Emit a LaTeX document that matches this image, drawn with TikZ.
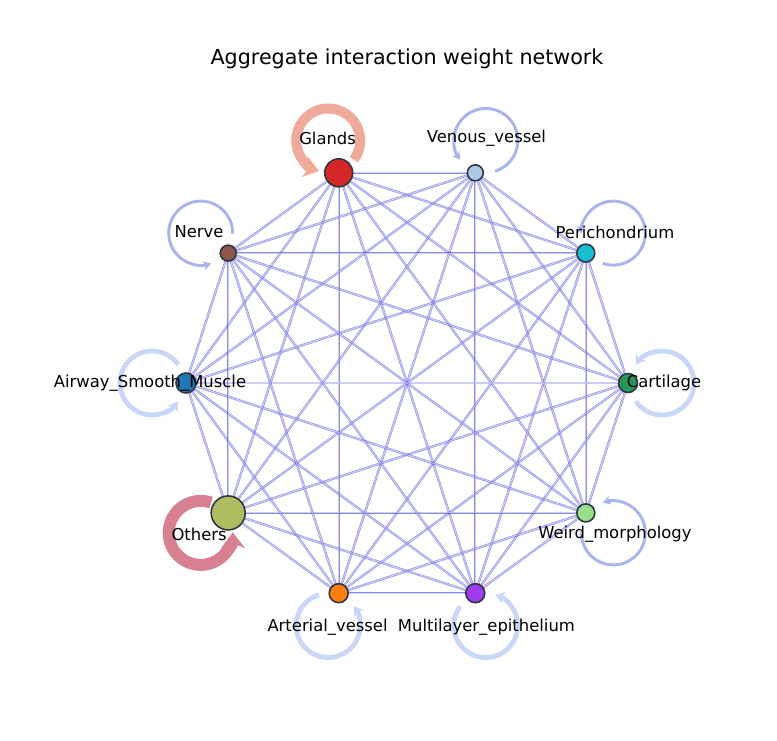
\documentclass[tikz,border=0pt]{standalone}
\usepackage{fontspec}
\setmainfont{DejaVu Sans}
\usetikzlibrary{arrows.meta,calc}

\definecolor{cGl}{RGB}{214,39,40}
\definecolor{cVe}{RGB}{174,199,232}
\definecolor{cPe}{RGB}{23,190,207}
\definecolor{cCa}{RGB}{40,150,90}
\definecolor{cWe}{RGB}{152,223,138}
\definecolor{cMu}{RGB}{160,60,240}
\definecolor{cAr}{RGB}{255,127,14}
\definecolor{cOt}{RGB}{176,188,96}
\definecolor{cAi}{RGB}{31,119,180}
\definecolor{cNe}{RGB}{140,86,75}
\definecolor{lSal}{RGB}{240,170,155}
\definecolor{lRed}{RGB}{215,128,145}
\definecolor{lPale}{RGB}{200,215,248}
\definecolor{lMid}{RGB}{168,180,235}
\definecolor{eBlue}{RGB}{50,50,215}

\tikzset{every picture/.style={line width=0.75pt}}
\tikzset{
  vert/.style={circle,draw={rgb,255:red,50;green,55;blue,65},line width=1.2pt,inner sep=0pt},
  edge/.style={draw=eBlue,draw opacity=0.55,double=white,double distance=0.8pt,line width=0.45pt},
  lbl/.style={font=\fontsize{12.3}{14}\selectfont},
  loopthin/.style={draw=lMid,line width=2.2pt,-{Stealth[length=6pt,width=7pt]}},
  loopmid/.style={draw=lPale,line width=3.6pt,-{Stealth[length=7pt,width=9pt]}},
  loopsal/.style={draw=lSal,line width=7.5pt,-{Stealth[length=11pt,width=16pt]}},
  loopred/.style={draw=lRed,line width=9pt,-{Stealth[length=12pt,width=18pt]}},
}

\begin{document}
\begin{tikzpicture}[x=0.75pt,y=0.75pt,yscale=-1,xscale=1]
	\useasboundingbox (0,0) rectangle (777,740);

	% Title
	\node[font=\fontsize{15.5}{18}\selectfont] (title) at (407,59) {Aggregate interaction weight network};

	\begin{scope}[shift={(407,383)}]
	% self loops
	\foreach \i/\ls in {0/loopsal,1/loopthin,2/loopthin,3/loopmid,4/loopthin,5/loopmid,6/loopmid,7/loopred,8/loopmid,9/loopthin}{
		\pgfmathsetmacro\a{-108+36*\i}
		\coordinate (L\i) at (\a:255);
		\draw[\ls] ($(L\i)+({\a+145}:32)$) arc[start angle={\a+145},delta angle=-290,radius=32];
	}
	% edges
	\foreach \i in {0,...,9}
		\coordinate (n\i) at ({-108+36*\i}:221);
	\foreach \i in {0,...,8}{
		\pgfmathtruncatemacro\s{\i+1}
		\foreach \j in {\s,...,9}
			\draw[edge] (n\i) -- (n\j);
	}
	% nodes
	\foreach \i/\col/\rr in {0/cGl/14,1/cVe/8,2/cPe/9,3/cCa/9.5,4/cWe/9,5/cMu/9.5,6/cAr/9.5,7/cOt/17,8/cAi/10,9/cNe/8}{
		\node[vert,fill=\col,minimum size={1.5*\rr}] (m\i) at (n\i) {};
	}
	% labels
	\foreach \i/\txt in {0/Glands,1/Venous\_vessel,2/Perichondrium,3/Cartilage,4/Weird\_morphology,5/Multilayer\_epithelium,6/Arterial\_vessel,7/Others,8/Airway\_Smooth\_Muscle,9/Nerve}{
		\node[lbl] (t\i) at ({-108+36*\i}:257) {\txt};
	}
	\end{scope}
\end{tikzpicture}
\end{document}
